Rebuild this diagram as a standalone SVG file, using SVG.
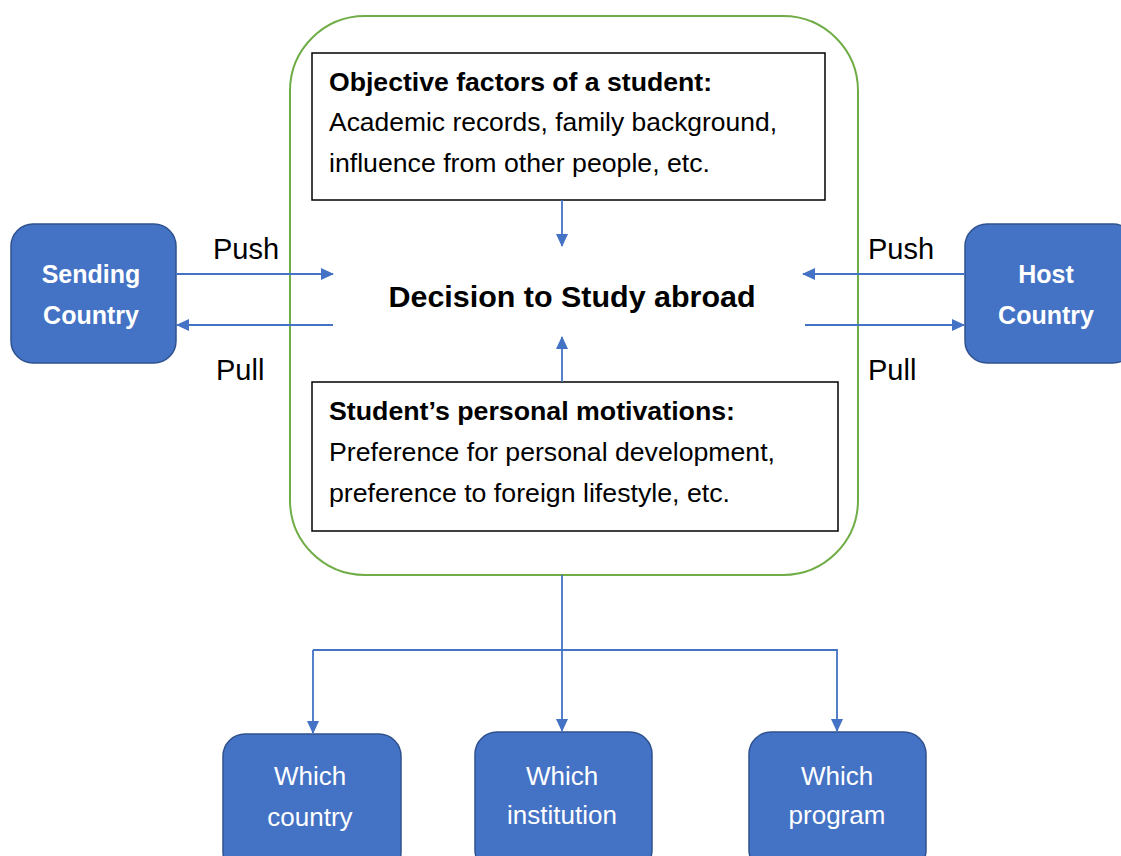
<svg xmlns="http://www.w3.org/2000/svg" width="1121" height="856" viewBox="0 0 1121 856">
<defs>
<marker id="ah" markerWidth="13" markerHeight="12" refX="12" refY="6" orient="auto" markerUnits="userSpaceOnUse" viewBox="0 0 13 12">
<path d="M0,0 L13,6 L0,12 Z" fill="#4472C4"/>
</marker>
<style>
.blue{fill:#4472C4;stroke:#2F528F;stroke-width:1.5}
.wb{font-family:"Liberation Sans",Arial,sans-serif;font-size:25px;font-weight:bold;fill:#fff;text-anchor:middle}
.wn{font-family:"Liberation Sans",Arial,sans-serif;font-size:26px;fill:#fff;text-anchor:middle}
.box{fill:#fff;stroke:#000;stroke-width:1.5}
.t{font-family:"Liberation Sans",Arial,sans-serif;font-size:25px;fill:#000}
.tb{font-family:"Liberation Sans",Arial,sans-serif;font-size:25px;font-weight:bold;fill:#000}
.lbl{font-family:"Liberation Sans",Arial,sans-serif;font-size:29px;fill:#000}
.c{fill:none;stroke:#4472C4;stroke-width:1.8}
</style>
</defs>
<rect width="1121" height="856" fill="#fff"/>
<g id="container">
<rect x="290" y="16" width="568" height="559" rx="75" ry="75" fill="none" stroke="#70AD47" stroke-width="2"/>
</g>
<g id="objective">
<rect class="box" x="312" y="53" width="513" height="147"/>
<text class="tb" x="329" y="91" textLength="383" lengthAdjust="spacingAndGlyphs">Objective factors of a student:</text>
<text class="t" x="329" y="131" textLength="448" lengthAdjust="spacingAndGlyphs">Academic records, family background,</text>
<text class="t" x="329" y="172" textLength="381" lengthAdjust="spacingAndGlyphs">influence from other people, etc.</text>
</g>
<g id="motivations">
<rect class="box" x="312" y="382" width="526" height="149"/>
<text class="tb" x="329" y="420" textLength="406" lengthAdjust="spacingAndGlyphs">Student’s personal motivations:</text>
<text class="t" x="329" y="461" textLength="446" lengthAdjust="spacingAndGlyphs">Preference for personal development,</text>
<text class="t" x="329" y="502" textLength="401" lengthAdjust="spacingAndGlyphs">preference to foreign lifestyle, etc.</text>
</g>
<g id="decision">
<text x="572" y="307" font-family="Liberation Sans, Arial, sans-serif" font-size="30" font-weight="bold" text-anchor="middle" fill="#000" textLength="367" lengthAdjust="spacingAndGlyphs">Decision to Study abroad</text>
</g>
<g id="sending">
<rect class="blue" x="11" y="224" width="165" height="139" rx="22"/>
<text class="wb" x="91" y="283">Sending</text>
<text class="wb" x="91" y="324">Country</text>
</g>
<g id="host">
<rect class="blue" x="965" y="224" width="170" height="139" rx="22"/>
<text class="wb" x="1046" y="283">Host</text>
<text class="wb" x="1046" y="324">Country</text>
</g>
<g id="which-country">
<rect class="blue" x="223" y="734" width="178" height="140" rx="22"/>
<text class="wn" x="310" y="785">Which</text>
<text class="wn" x="310" y="826">country</text>
</g>
<g id="which-institution">
<rect class="blue" x="475" y="732" width="177" height="140" rx="22"/>
<text class="wn" x="562" y="785">Which</text>
<text class="wn" x="562" y="824">institution</text>
</g>
<g id="which-program">
<rect class="blue" x="749" y="732" width="177" height="140" rx="22"/>
<text class="wn" x="837" y="785">Which</text>
<text class="wn" x="837" y="824">program</text>
</g>
<g id="connectors">
<line class="c" x1="176" y1="274" x2="333" y2="274" marker-end="url(#ah)"/>
<line class="c" x1="333" y1="325" x2="177" y2="325" marker-end="url(#ah)"/>
<line class="c" x1="965" y1="274" x2="803" y2="274" marker-end="url(#ah)"/>
<line class="c" x1="805" y1="325" x2="964" y2="325" marker-end="url(#ah)"/>
<line class="c" x1="562" y1="200" x2="562" y2="246" marker-end="url(#ah)"/>
<line class="c" x1="562" y1="382" x2="562" y2="337" marker-end="url(#ah)"/>
<line class="c" x1="562" y1="575" x2="562" y2="731" marker-end="url(#ah)"/>
<polyline class="c" points="313,650 837,650 837,731" marker-end="url(#ah)"/>
<line class="c" x1="313" y1="650" x2="313" y2="733" marker-end="url(#ah)"/>
<text class="lbl" x="213" y="259">Push</text>
<text class="lbl" x="216" y="380">Pull</text>
<text class="lbl" x="868" y="259">Push</text>
<text class="lbl" x="868" y="380">Pull</text>
</g>
</svg>
